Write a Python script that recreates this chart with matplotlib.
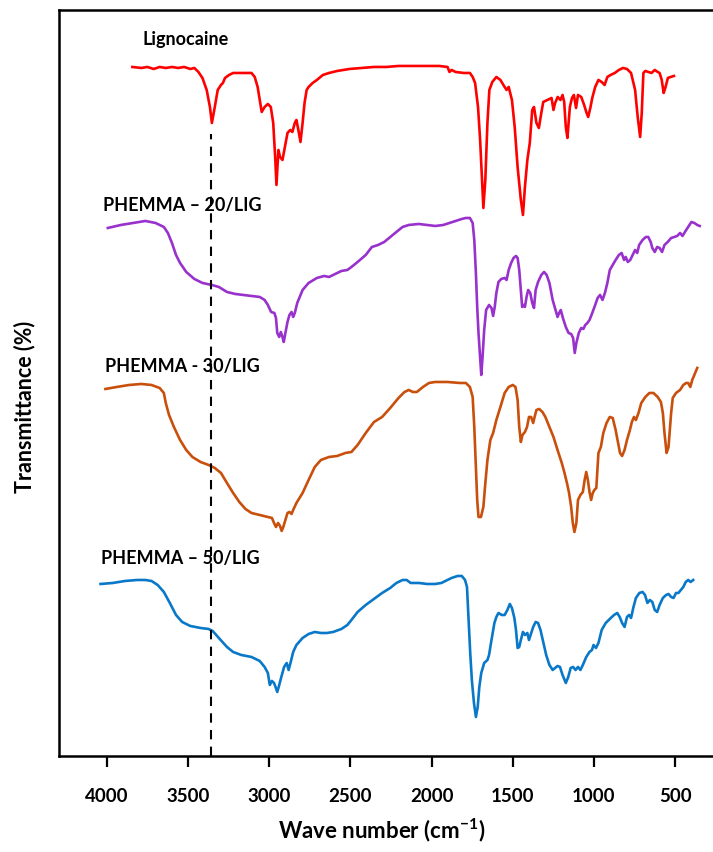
import matplotlib.pyplot as plt

plt.rcParams['font.family'] = ['Lato', 'DejaVu Sans']
plt.rcParams['font.weight'] = 'bold'
plt.rcParams['mathtext.fontset'] = 'custom'
plt.rcParams['mathtext.rm'] = 'Lato:bold'
plt.rcParams['mathtext.bf'] = 'Lato:bold'

# FTIR spectra, stacked (arbitrary transmittance units)
lig_wn = [3844, 3789, 3751, 3713, 3676, 3638, 3600, 3562, 3525, 3487, 3462, 3437, 3412, 3386, 3366,
          3354, 3336, 3318, 3298, 3286, 3273, 3248, 3223, 3185, 3135, 3110, 3090, 3072, 3059, 3047,
          3029, 3009, 2991, 2976, 2964, 2956, 2944, 2934, 2919, 2904, 2888, 2871, 2858, 2843, 2833,
          2821, 2808, 2795, 2783, 2770, 2758, 2733, 2707, 2670, 2632, 2582, 2506, 2431, 2355, 2280,
          2204, 2129, 2028, 1953, 1902, 1890, 1877, 1852, 1802, 1764, 1747, 1732, 1714, 1701, 1689,
          1681, 1669, 1656, 1644, 1626, 1601, 1576, 1550, 1538, 1525, 1505, 1488, 1470, 1450, 1437,
          1425, 1410, 1395, 1380, 1369, 1354, 1339, 1324, 1312, 1286, 1261, 1249, 1239, 1223, 1206,
          1193, 1183, 1173, 1163, 1148, 1135, 1123, 1110, 1098, 1078, 1060, 1047, 1035, 1022, 1010,
          992, 972, 952, 934, 917, 897, 871, 846, 821, 796, 771, 746, 730, 715, 705,
          695, 683, 665, 645, 625, 607, 595, 582, 570, 560, 544, 527, 507]
lig_t = [689, 688, 689, 687, 689, 688, 689, 688, 689, 687, 688, 684, 678, 666, 649,
         633, 649, 666, 671, 673, 678, 681, 683, 683, 683, 683, 679, 669, 656, 644,
         649, 652, 649, 633, 599, 571, 606, 599, 596, 609, 623, 626, 624, 633, 636,
         626, 614, 633, 653, 666, 669, 673, 676, 681, 683, 685, 687, 688, 689, 689,
         690, 690, 690, 690, 689, 684, 686, 684, 683, 683, 679, 673, 649, 616, 576,
         548, 576, 633, 666, 674, 679, 676, 669, 666, 669, 656, 629, 589, 556, 541,
         569, 596, 613, 646, 649, 633, 628, 643, 654, 656, 658, 646, 653, 659, 656,
         661, 654, 629, 618, 649, 658, 661, 648, 661, 659, 651, 644, 639, 648, 658,
         669, 676, 674, 671, 679, 681, 683, 686, 688, 687, 683, 666, 639, 619, 643,
         683, 685, 684, 683, 686, 684, 683, 676, 663, 668, 678, 679, 680]

p20_wn = [3995, 3915, 3839, 3764, 3701, 3650, 3625, 3600, 3575, 3550, 3512, 3462, 3412, 3354, 3311,
          3261, 3210, 3160, 3110, 3059, 3029, 3009, 2989, 2969, 2959, 2951, 2939, 2929, 2919, 2911,
          2901, 2888, 2876, 2863, 2853, 2843, 2828, 2795, 2758, 2707, 2662, 2632, 2594, 2556, 2519,
          2494, 2456, 2406, 2368, 2330, 2292, 2255, 2217, 2179, 2141, 2079, 2028, 1978, 1928, 1890,
          1852, 1814, 1789, 1764, 1747, 1737, 1727, 1719, 1711, 1701, 1694, 1686, 1676, 1664, 1646,
          1631, 1621, 1611, 1601, 1588, 1571, 1550, 1538, 1525, 1510, 1495, 1480, 1470, 1460, 1450,
          1442, 1432, 1425, 1415, 1405, 1392, 1380, 1369, 1359, 1344, 1324, 1307, 1291, 1274, 1254,
          1236, 1224, 1214, 1204, 1191, 1173, 1156, 1140, 1128, 1118, 1108, 1093, 1078, 1065, 1053,
          1040, 1027, 1010, 992, 977, 962, 947, 932, 917, 902, 884, 866, 846, 829, 814,
          804, 791, 776, 761, 746, 733, 721, 700, 680, 665, 650, 640, 625, 610, 595,
          580, 565, 545, 524, 504, 487, 469, 454, 439, 419, 399, 381, 363, 348]
p20_t = [528, 531, 533, 535, 533, 529, 523, 513, 501, 493, 484, 477, 473, 471, 469,
         464, 462, 461, 460, 459, 456, 451, 444, 443, 438, 423, 419, 424, 419, 414,
         423, 434, 441, 444, 439, 443, 453, 466, 473, 478, 480, 479, 482, 485, 486,
         489, 494, 501, 509, 511, 514, 519, 524, 529, 531, 532, 531, 530, 531, 533,
         535, 537, 538, 538, 533, 516, 483, 449, 423, 399, 381, 399, 426, 446, 451,
         448, 440, 449, 463, 474, 477, 478, 476, 486, 493, 498, 500, 498, 486, 466,
         449, 451, 449, 459, 466, 463, 453, 448, 466, 474, 481, 484, 481, 473, 456,
         446, 439, 443, 446, 438, 429, 423, 422, 418, 403, 413, 423, 428, 427, 431,
         433, 436, 443, 451, 458, 461, 456, 463, 473, 486, 491, 496, 501, 503, 496,
         499, 494, 496, 501, 506, 503, 511, 516, 519, 519, 514, 508, 504, 509, 508,
         504, 511, 514, 518, 519, 520, 523, 520, 524, 529, 534, 533, 531, 530]

p30_wn = [4010, 3940, 3864, 3789, 3726, 3676, 3650, 3638, 3618, 3588, 3550, 3512, 3474, 3424, 3374,
          3336, 3298, 3261, 3223, 3185, 3147, 3110, 3059, 3009, 2984, 2971, 2959, 2946, 2934, 2924,
          2914, 2901, 2888, 2876, 2863, 2853, 2833, 2795, 2758, 2720, 2682, 2632, 2582, 2531, 2494,
          2456, 2406, 2355, 2305, 2255, 2204, 2167, 2141, 2116, 2091, 2053, 2016, 1978, 1902, 1827,
          1789, 1764, 1747, 1737, 1727, 1719, 1711, 1696, 1681, 1671, 1656, 1638, 1621, 1601, 1576,
          1550, 1525, 1500, 1483, 1470, 1460, 1450, 1440, 1425, 1412, 1400, 1387, 1374, 1367, 1354,
          1337, 1317, 1299, 1274, 1249, 1224, 1198, 1181, 1166, 1153, 1140, 1130, 1120, 1108, 1098,
          1083, 1068, 1057, 1047, 1037, 1027, 1017, 1007, 997, 985, 972, 957, 942, 922, 902,
          884, 866, 851, 839, 826, 811, 796, 778, 766, 753, 741, 725, 708, 683, 658,
          633, 607, 587, 575, 565, 552, 540, 524, 514, 494, 469, 449, 431, 419, 406,
          394, 376, 363]
p30_t = [367, 369, 371, 372, 371, 368, 363, 353, 341, 329, 316, 306, 299, 294, 291,
         288, 283, 273, 263, 254, 247, 243, 241, 239, 238, 233, 229, 233, 230, 225,
         229, 236, 243, 244, 242, 246, 253, 263, 276, 289, 296, 299, 300, 303, 304,
         311, 323, 334, 339, 348, 358, 364, 366, 364, 364, 369, 373, 374, 374, 373,
         373, 369, 359, 329, 289, 256, 239, 239, 249, 269, 296, 316, 323, 336, 349,
         363, 369, 371, 369, 356, 329, 314, 321, 324, 329, 339, 339, 333, 338, 346,
         347, 344, 339, 329, 319, 306, 293, 283, 273, 263, 249, 233, 224, 233, 256,
         261, 264, 276, 284, 276, 264, 256, 263, 266, 268, 303, 309, 323, 333, 339,
         338, 326, 313, 303, 300, 306, 316, 326, 334, 339, 336, 343, 353, 359, 363,
         363, 359, 354, 343, 323, 303, 309, 343, 358, 363, 366, 371, 373, 373, 369,
         376, 383, 388]

p50_wn = [4040, 3965, 3889, 3814, 3764, 3726, 3688, 3650, 3613, 3575, 3537, 3487, 3424, 3374, 3349,
          3311, 3261, 3223, 3173, 3110, 3059, 3029, 3009, 2997, 2984, 2971, 2964, 2951, 2939, 2926,
          2909, 2893, 2881, 2868, 2853, 2833, 2795, 2758, 2720, 2682, 2645, 2607, 2556, 2519, 2494,
          2456, 2406, 2355, 2305, 2255, 2217, 2179, 2154, 2129, 2079, 2028, 1978, 1940, 1915, 1877,
          1840, 1814, 1794, 1782, 1772, 1762, 1752, 1739, 1727, 1716, 1706, 1694, 1676, 1656, 1646,
          1631, 1613, 1601, 1588, 1568, 1550, 1533, 1518, 1505, 1490, 1480, 1470, 1460, 1450, 1437,
          1425, 1410, 1400, 1390, 1374, 1359, 1344, 1329, 1312, 1294, 1274, 1254, 1239, 1224, 1209,
          1193, 1173, 1158, 1143, 1128, 1113, 1098, 1083, 1068, 1047, 1027, 1012, 1002, 987, 972,
          952, 927, 902, 876, 856, 841, 826, 811, 796, 783, 771, 756, 741, 720, 700,
          685, 670, 655, 640, 625, 610, 595, 575, 555, 540, 524, 509, 494, 479, 464,
          449, 434, 419, 404, 388]
p50_t = [172, 173, 175, 176, 176, 175, 171, 164, 153, 141, 134, 130, 128, 127, 125,
         118, 109, 104, 101, 99, 95, 89, 83, 71, 75, 73, 70, 64, 71, 79,
         89, 93, 86, 94, 104, 111, 118, 122, 124, 123, 123, 124, 127, 131, 136,
         144, 151, 157, 163, 168, 173, 176, 176, 173, 173, 172, 172, 173, 175, 178,
         180, 180, 176, 169, 136, 103, 76, 53, 39, 49, 69, 83, 93, 96, 101,
         116, 133, 139, 143, 141, 141, 146, 152, 148, 138, 126, 108, 109, 116, 124,
         121, 123, 116, 121, 129, 134, 133, 126, 114, 101, 91, 86, 88, 90, 89,
         81, 73, 79, 88, 89, 86, 89, 86, 91, 99, 104, 106, 111, 108, 113,
         126, 133, 137, 141, 143, 139, 133, 129, 139, 141, 138, 149, 158, 163, 164,
         161, 153, 156, 154, 146, 144, 151, 158, 161, 162, 159, 158, 163, 163, 166,
         169, 174, 176, 174, 176]

series = [
    ('Lignocaine', lig_wn, lig_t, '#FF0000'),
    ('PHEMMA \u2013 20/LIG', p20_wn, p20_t, '#9932CC'),
    ('PHEMMA - 30/LIG', p30_wn, p30_t, '#C94F0C'),
    ('PHEMMA \u2013 50/LIG', p50_wn, p50_t, '#0A78C8'),
]

# label anchors (wave number, transmittance)
label_pos = [(3784, 711), (4025, 545), (4012, 384), (4037, 192)]

nh_band = 3359      # N-H stretch marker
nh_top = 622

fig = plt.figure(figsize=(7.13, 8.52), dpi=100)
ax = fig.add_axes([0.0823, 0.1127, 0.9177, 0.8756])

for (name, wn, t, col), (lx, ly) in zip(series, label_pos):
    ax.plot(wn, t, color=col, lw=1.9, solid_joinstyle='round')
    ax.text(lx, ly, name, fontsize=13, fontweight='bold', ha='left', va='baseline')

ax.plot([nh_band, nh_band], [0, nh_top], color='black', lw=1.5, dashes=(4.5, 3.5))

ax.set_xlim(4298, 266)
ax.set_ylim(0, 746)
ax.set_xticks([4000, 3500, 3000, 2500, 2000, 1500, 1000, 500])
ax.set_yticks([])
ax.tick_params(axis='x', direction='out', length=8, width=1.6, pad=15, labelsize=13.5)
for lbl in ax.get_xticklabels():
    lbl.set_fontweight('bold')

for side in ['left', 'bottom', 'top']:
    ax.spines[side].set_linewidth(1.8)
ax.spines['right'].set_visible(False)

ax.set_xlabel(r'Wave number (cm$^{-1}$)', fontsize=16, fontweight='bold')
ax.xaxis.set_label_coords(0.494, -0.081)
ax.text(-0.052, 0.468, 'Transmittance (%)', transform=ax.transAxes, rotation=90,
        fontsize=15.5, fontweight='bold', ha='center', va='center')

plt.savefig('out.png', dpi=100)
